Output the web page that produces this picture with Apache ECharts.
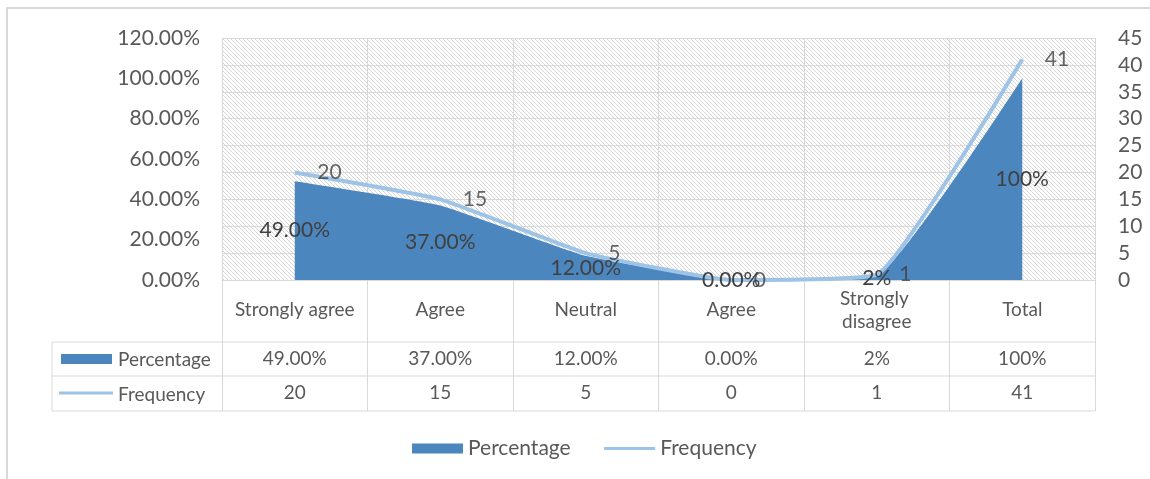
<!DOCTYPE html>
<html>
<head>
<meta charset="utf-8">
<script src="https://cdn.jsdelivr.net/npm/echarts@6/dist/echarts.min.js"></script>
<style>
html,body{margin:0;padding:0;background:#fff;}
#chart{width:1150px;height:479px;}
</style>
</head>
<body>
<div id="chart"></div>
<script>
// ---- data ----
const categories = ['Strongly agree', 'Agree', 'Neutral', 'Agree', 'Strongly disagree', 'Total'];
const percentValues = [49, 37, 12, 0, 2, 100];
const percentLabels = ['49.00%', '37.00%', '12.00%', '0.00%', '2%', '100%'];
const frequencyValues = [20, 15, 5, 0, 1, 41];
const seriesNames = ['Percentage', 'Frequency'];

// ---- style / layout ----
const FONT = 'Lato, "Open Sans", sans-serif';
const TXT = '#595959';
const LBL = '#404040';
const AREA = '#4b86be';
const LINE = '#9dc3e6';
const GRIDC = '#d9d9d9';
const G = {left: 222, right: 55, top: 38, bottom: 199};
const W = 1150, H = 479;
const plotBottom = H - G.bottom;       // 280
const plotRight = W - G.right;         // 1095
const row1 = plotBottom + 62;          // 342
const row2 = plotBottom + 96;          // 376
const row3 = plotBottom + 131;         // 411
const tableLeft = 52;

// hatch pattern
const tile = document.createElement('canvas');
tile.width = 4; tile.height = 4;
const tc = tile.getContext('2d');
tc.fillStyle = '#ffffff'; tc.fillRect(0, 0, 4, 4);
tc.strokeStyle = '#d6d6d6'; tc.lineWidth = 1;
tc.beginPath();
tc.moveTo(-1, -1); tc.lineTo(5, 5);
tc.moveTo(3, -1); tc.lineTo(5, 1);
tc.moveTo(-1, 3); tc.lineTo(1, 5);
tc.stroke();

const chart = echarts.init(document.getElementById('chart'), null, {renderer: 'canvas'});

const hiddenCatAxis = (data, margin) => ({
  type: 'category', data: data, gridIndex: 0, position: 'bottom', boundaryGap: true,
  axisLine: {show: false}, axisTick: {show: false}, splitLine: {show: false},
  axisLabel: {interval: 0, margin: margin, verticalAlign: 'middle', color: TXT, fontFamily: FONT, fontSize: 19}
});

const option = {
  backgroundColor: '#ffffff',
  animation: false,
  textStyle: {fontFamily: FONT},
  grid: {
    left: G.left, right: G.right, top: G.top, bottom: G.bottom,
    show: true, borderWidth: 0,
    backgroundColor: {image: tile, repeat: 'repeat'}
  },
  legend: {
    data: [
      {name: seriesNames[0], icon: 'rect'},
      {name: seriesNames[1], itemStyle: {opacity: 0}, lineStyle: {width: 3, color: LINE, opacity: 1}}
    ],
    left: 407, top: 433,
    itemWidth: 51, itemHeight: 10, itemGap: 32,
    textStyle: {color: TXT, fontFamily: FONT, fontSize: 21}
  },
  xAxis: [
    {
      type: 'category', data: categories, boundaryGap: true,
      axisLine: {show: true, lineStyle: {color: GRIDC, width: 1}},
      axisTick: {show: true, interval: 0, length: row3 - plotBottom, lineStyle: {color: GRIDC, width: 1}},
      splitLine: {show: true, interval: 0, lineStyle: {color: GRIDC, width: 1}},
      axisLabel: {
        interval: 0, margin: 30, verticalAlign: 'middle', color: TXT, fontFamily: FONT, fontSize: 19,
        width: 135, overflow: 'break', lineHeight: 23
      }
    },
    hiddenCatAxis(percentLabels, 79),
    hiddenCatAxis(frequencyValues.map(String), 113)
  ],
  yAxis: [
    {
      type: 'value', min: 0, max: 120, interval: 20, position: 'left',
      axisLine: {show: false}, axisTick: {show: false}, splitLine: {show: false},
      axisLabel: {margin: 22, color: TXT, fontFamily: FONT, fontSize: 21,
        formatter: v => v.toFixed(2) + '%'}
    },
    {
      type: 'value', min: 0, max: 45, interval: 5, position: 'right',
      axisLine: {show: false}, axisTick: {show: false},
      splitLine: {show: true, lineStyle: {color: GRIDC, width: 1}},
      axisLabel: {margin: 23, color: TXT, fontFamily: FONT, fontSize: 21}
    }
  ],
  series: [
    {
      name: seriesNames[0], type: 'line', xAxisIndex: 0, yAxisIndex: 0,
      data: percentValues, smooth: 0.12, symbol: 'none',
      lineStyle: {width: 0, color: AREA}, itemStyle: {color: AREA},
      areaStyle: {color: AREA, opacity: 1}, z: 2
    },
    {
      name: '_pctLabels', type: 'bar', xAxisIndex: 0, yAxisIndex: 0,
      data: percentValues, silent: true, barWidth: 10,
      itemStyle: {color: 'rgba(0,0,0,0)'},
      label: {show: true, position: 'inside', color: LBL, fontFamily: FONT, fontSize: 21,
        formatter: p => percentLabels[p.dataIndex]},
      z: 5
    },
    {
      name: seriesNames[1], type: 'line', xAxisIndex: 0, yAxisIndex: 1,
      data: frequencyValues, smooth: 0.12, symbol: 'none',
      lineStyle: {width: 4, color: LINE, opacity: 1}, itemStyle: {color: LINE, opacity: 0},
      z: 4
    },
    {
      name: '_freqLabels', type: 'scatter', xAxisIndex: 0, yAxisIndex: 1,
      data: frequencyValues, silent: true, symbolSize: 1,
      itemStyle: {color: 'rgba(0,0,0,0)'},
      label: {show: true, position: 'right', distance: 22, color: LBL, fontFamily: FONT, fontSize: 21},
      z: 6
    }
  ],
  graphic: [
    {type: 'rect', shape: {x: 7, y: 8, width: 1170, height: 500}, style: {fill: 'none', stroke: GRIDC, lineWidth: 2}, silent: true},
    {type: 'line', shape: {x1: tableLeft, y1: row1, x2: plotRight, y2: row1}, style: {stroke: GRIDC, lineWidth: 1}},
    {type: 'line', shape: {x1: tableLeft, y1: row2, x2: plotRight, y2: row2}, style: {stroke: GRIDC, lineWidth: 1}},
    {type: 'line', shape: {x1: tableLeft, y1: row3, x2: plotRight, y2: row3}, style: {stroke: GRIDC, lineWidth: 1}},
    {type: 'line', shape: {x1: tableLeft, y1: row1, x2: tableLeft, y2: row3}, style: {stroke: GRIDC, lineWidth: 1}},
    {type: 'rect', shape: {x: 61, y: 354, width: 51, height: 10}, style: {fill: AREA}},
    {type: 'text', x: 118, y: (row1 + row2) / 2 + 1, style: {text: seriesNames[0], fill: TXT, font: '19px ' + FONT, verticalAlign: 'middle'}},
    {type: 'line', shape: {x1: 59, y1: 393, x2: 113, y2: 393}, style: {stroke: LINE, lineWidth: 3}},
    {type: 'text', x: 118, y: (row2 + row3) / 2 + 1, style: {text: seriesNames[1], fill: TXT, font: '19px ' + FONT, verticalAlign: 'middle'}}
  ]
};
chart.setOption(option);
</script>
</body>
</html>
